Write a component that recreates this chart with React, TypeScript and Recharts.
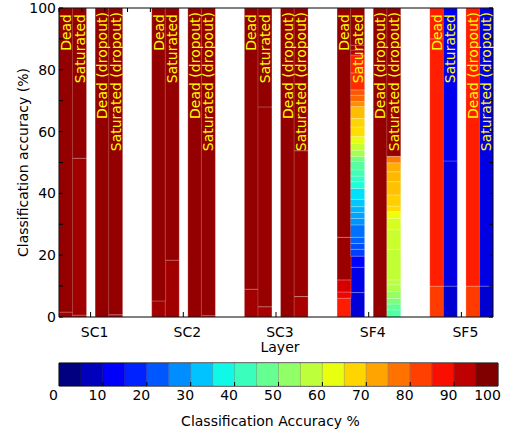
import React from "react";
import {
    ComposedChart,
    BarChart,
    Bar,
    Cell,
    XAxis,
    YAxis,
    LabelList,
    ReferenceArea,
} from "recharts";

const FONT = "'DejaVu Sans', sans-serif";

const LAYERS = ["SC1", "SC2", "SC3", "SF4", "SF5"];
const BAR_NAMES = ["Dead", "Saturated", "Dead (dropout)", "Saturated (dropout)"];
const Y_TICKS = [0, 10, 20, 30, 40, 50, 60, 70, 80, 90, 100];
const CBAR_TICKS = [0, 10, 20, 30, 40, 50, 60, 70, 80, 90, 100];
const CBAR_BINS = [0, 5, 10, 15, 20, 25, 30, 35, 40, 45, 50, 55, 60, 65, 70, 75, 80, 85, 90, 95];

// each bar, bottom up: [upper edge of the segment (%), classification accuracy (%)]
const sc1Dead = [[1.6, 96.8], [100, 98.2]];
const sc1Sat = [[0.6, 96.5], [51.4, 97.2], [100, 98.2]];
const sc1DeadDrop = [[100, 98.2]];
const sc1SatDrop = [[0.7, 97], [100, 98.2]];

const sc2Dead = [[5.2, 97], [100, 98.2]];
const sc2Sat = [[18.4, 97], [100, 98.2]];
const sc2DeadDrop = [[100, 98.2]];
const sc2SatDrop = [[0.4, 97], [100, 98.2]];

const sc3Dead = [[9, 97], [100, 98.2]];
const sc3Sat = [[3.3, 96.5], [68, 97.8], [100, 98.4]];
const sc3DeadDrop = [[100, 98.2]];
const sc3SatDrop = [[6.6, 96.4], [53.8, 97.6], [100, 98.2]];

const sf4Dead = [[6.1, 88], [8.1, 90.5], [12, 92.5], [25.8, 97.6], [100, 98.2]];
const sf4Sat = [
    [7.9, 7.7], [16.1, 9], [19.7, 12], [21.9, 18.5], [23.8, 20], [25.8, 22],
    [29.8, 23.5], [31.9, 27], [33.8, 28.5], [35.7, 30], [38.1, 32], [41.6, 34.5],
    [43.8, 39], [45.6, 41], [47.6, 43], [50.3, 45.5], [51.9, 49], [54, 55],
    [56.2, 59], [58.4, 63], [61.5, 67.5], [64.3, 68.5], [68.1, 71], [69.7, 76],
    [71.8, 80], [73.5, 82], [79, 86.5], [84.8, 87.5], [86.4, 95.5], [88, 97], [100, 98.2],
];
const sf4DeadDrop = [[100, 98.2]];
const sf4SatDrop = [
    [2.3, 45], [4.2, 47], [6, 50], [8.2, 53], [10.4, 56], [12, 57.5], [21.9, 58.5],
    [28.2, 59.5], [31.9, 61], [34.1, 64], [35.9, 68], [39.5, 69], [43.8, 70.5],
    [47, 71.5], [49.9, 72.5], [52, 78], [100, 98.2],
];

const sf5Dead = [[10, 84.8], [90, 87.8], [100, 88]];
const sf5Sat = [[10, 7], [50.5, 8.5], [100, 9.5]];
const sf5DeadDrop = [[10, 84.8], [100, 87.8]];
const sf5SatDrop = [[10, 7], [100, 8.5]];

const BARS = [
    [sc1Dead, sc1Sat, sc1DeadDrop, sc1SatDrop],
    [sc2Dead, sc2Sat, sc2DeadDrop, sc2SatDrop],
    [sc3Dead, sc3Sat, sc3DeadDrop, sc3SatDrop],
    [sf4Dead, sf4Sat, sf4DeadDrop, sf4SatDrop],
    [sf5Dead, sf5Sat, sf5DeadDrop, sf5SatDrop],
];

// layout: bar centres relative to the layer tick, x range of the axes
// (bar width = smallest spacing between centres, so neighbours touch)
const BAR_OFFSETS = [-0.268, -0.122, 0.122, 0.268];
const X_DOMAIN = [-0.341, 4.341];

// matplotlib "jet"
const JET_R = [[0, 0], [0.35, 0], [0.66, 1], [0.89, 1], [1, 0.5]];
const JET_G = [[0, 0], [0.125, 0], [0.375, 1], [0.64, 1], [0.91, 0], [1, 0]];
const JET_B = [[0, 0.5], [0.11, 1], [0.34, 1], [0.65, 0], [1, 0]];
const interp = (pts: number[][], t: number) => {
    for (let i = 1; i < pts.length; i++) {
        if (t <= pts[i][0]) {
            const [x0, y0] = pts[i - 1];
            const [x1, y1] = pts[i];
            return y0 + ((y1 - y0) * (t - x0)) / (x1 - x0);
        }
    }
    return pts[pts.length - 1][1];
};
const jet = (t: number) => {
    const c = Math.max(0, Math.min(1, t));
    const ch = (p: number[][]) => Math.round(interp(p, c) * 255);
    return `rgb(${ch(JET_R)},${ch(JET_G)},${ch(JET_B)})`;
};

const MAX_SEGS = Math.max(...BARS.flat().map((b) => b.length));
const SEG_KEYS = Array.from({ length: MAX_SEGS }, (_, k) => k);

// one row per bar; h<k> = segment height, lab<k> = name on the top segment only
const rows = BARS.flatMap((group, li) =>
    group.map((segs, ti) => {
        const row: any = {
            x: li + BAR_OFFSETS[ti],
            acc: segs.map((s) => s[1]),
        };
        let prev = 0;
        SEG_KEYS.forEach((k) => {
            if (k < segs.length) {
                row[`h${k}`] = segs[k][0] - prev;
                prev = segs[k][0];
            } else {
                row[`h${k}`] = 0;
            }
            row[`lab${k}`] = k === segs.length - 1 ? BAR_NAMES[ti] : "";
        });
        return row;
    }),
);

const cbarRow: any = { name: "cb" };
CBAR_BINS.forEach((b, i) => {
    const next = i + 1 < CBAR_BINS.length ? CBAR_BINS[i + 1] : 100;
    cbarRow[`c${i}`] = next - b;
});

const textStyle = { fontSize: 14, fontFamily: FONT, fill: "#000" };

const barLabel = (p: any) => {
    if (!p.value) return null;
    const vb = p.viewBox ?? p;
    const cx = vb.x + vb.width / 2;
    // labels without brackets sit a little lower, as in the source figure
    const drop = String(p.value).includes("(") ? 4 : 6;
    return (
        <text
            transform={`translate(${cx + 5},${vb.y + drop}) rotate(-90)`}
            textAnchor="end"
            fontSize={14}
            fontFamily={FONT}
            fill="#ffff00"
        >
            {p.value}
        </text>
    );
};

const LeftTick = (p: any) => {
    const v = p.payload.value;
    return (
        <g>
            <line x1={p.x} x2={p.x + 4} y1={p.y} y2={p.y} stroke="#000" />
            {v % 20 === 0 && (
                <text x={p.x - 3} y={p.y} dy={5} textAnchor="end" {...textStyle}>
                    {v}
                </text>
            )}
        </g>
    );
};

const RightTick = (p: any) => (
    <line x1={p.x} x2={p.x - 4} y1={p.y} y2={p.y} stroke="#000" />
);

const TopTick = (p: any) => (
    <line x1={p.x} x2={p.x} y1={p.y} y2={p.y + 4} stroke="#000" />
);

const BottomTick = (p: any) => (
    <g>
        <line x1={p.x} x2={p.x} y1={p.y} y2={p.y - 5} stroke="#000" />
        <text x={p.x + 4} y={p.y + 20} textAnchor="middle" {...textStyle}>
            {LAYERS[p.payload.value]}
        </text>
    </g>
);

const CbarTick = (p: any) => {
    const v = p.payload.value;
    return (
        <g>
            {v > 0 && v < 100 && (
                <line x1={p.x} x2={p.x} y1={p.y} y2={p.y - 4} stroke="#000" />
            )}
            <text
                x={p.x + (v === 100 ? -10.5 : -5.5)}
                y={p.y + 14}
                textAnchor="middle"
                {...textStyle}
            >
                {v}
            </text>
        </g>
    );
};

const yTitle = (p: any) => {
    const vb = p.viewBox;
    return (
        <text
            transform={`translate(${vb.x + 19},${vb.y + vb.height / 2}) rotate(-90)`}
            textAnchor="middle"
            {...textStyle}
        >
            Classification accuracy (%)
        </text>
    );
};

const xTitle = (p: any) => {
    const vb = p.viewBox;
    return (
        <text x={vb.x + vb.width / 2 + 4} y={vb.y + 35} textAnchor="middle" {...textStyle}>
            Layer
        </text>
    );
};

const cbarTitle = (p: any) => {
    const vb = p.viewBox;
    return (
        <text x={vb.x + vb.width / 2 - 8} y={vb.y + 40} textAnchor="middle" {...textStyle}>
            Classification Accuracy %
        </text>
    );
};

const App = () => {
    return (
        <div
            style={{
                position: "absolute",
                left: 0,
                top: 0,
                width: 510,
                height: 434,
                background: "#fff",
                fontFamily: FONT,
            }}
        >
            <ComposedChart
                width={510}
                height={355}
                data={rows}
                margin={{ top: 7, right: 16, bottom: 0, left: 9 }}
                barCategoryGap={0}
                barGap={0}
            >
                {SEG_KEYS.map((k) => (
                    <Bar
                        key={k}
                        dataKey={`h${k}`}
                        stackId="bar"
                        isAnimationActive={false}
                        stroke="rgba(255,255,255,0.25)"
                        strokeWidth={0.8}
                    >
                        {rows.map((r, i) => (
                            <Cell key={i} fill={jet((r.acc[k] ?? 0) / 100)} />
                        ))}
                        <LabelList dataKey={`lab${k}`} content={barLabel} />
                    </Bar>
                ))}
                <XAxis
                    dataKey="x"
                    type="number"
                    domain={X_DOMAIN}
                    allowDataOverflow
                    ticks={[0, 1, 2, 3, 4]}
                    interval={0}
                    height={38}
                    tickSize={0}
                    tickMargin={0}
                    axisLine={{ stroke: "#000" }}
                    tick={BottomTick}
                    label={{ content: xTitle }}
                />
                <XAxis
                    xAxisId="top"
                    orientation="top"
                    type="number"
                    domain={X_DOMAIN}
                    allowDataOverflow
                    ticks={[0, 1, 2, 3, 4]}
                    interval={0}
                    height={1}
                    tickSize={0}
                    tickMargin={0}
                    axisLine={{ stroke: "#000" }}
                    tick={TopTick}
                />
                <YAxis
                    type="number"
                    domain={[0, 100]}
                    allowDataOverflow
                    ticks={Y_TICKS}
                    interval={0}
                    width={50}
                    tickSize={0}
                    tickMargin={0}
                    axisLine={{ stroke: "#000" }}
                    tick={LeftTick}
                    label={{ content: yTitle }}
                />
                <YAxis
                    yAxisId="right"
                    orientation="right"
                    type="number"
                    domain={[0, 100]}
                    allowDataOverflow
                    ticks={Y_TICKS}
                    interval={0}
                    width={1}
                    tickSize={0}
                    tickMargin={0}
                    axisLine={{ stroke: "#000" }}
                    tick={RightTick}
                />
            </ComposedChart>
            <div style={{ position: "absolute", left: 0, top: 355 }}>
                <BarChart
                    width={510}
                    height={79}
                    layout="vertical"
                    data={[cbarRow]}
                    margin={{ top: 8, right: 12, bottom: 0, left: 59 }}
                    barCategoryGap={0}
                >
                    <XAxis
                        type="number"
                        domain={[0, 100]}
                        ticks={CBAR_TICKS}
                        interval={0}
                        height={48}
                        tickSize={0}
                        tickMargin={0}
                        axisLine={false}
                        tick={CbarTick}
                        label={{ content: cbarTitle }}
                    />
                    <YAxis type="category" dataKey="name" hide />
                    {CBAR_BINS.map((b, i) => (
                        <Bar
                            key={b}
                            dataKey={`c${i}`}
                            stackId="cb"
                            fill={jet(i / (CBAR_BINS.length - 1))}
                            stroke="rgba(0,0,0,0.25)"
                            strokeWidth={0.6}
                            isAnimationActive={false}
                        />
                    ))}
                    <ReferenceArea
                        x1={0}
                        x2={100}
                        fill="none"
                        stroke="#000"
                        strokeWidth={1}
                        ifOverflow="visible"
                    />
                </BarChart>
            </div>
        </div>
    );
};

export default App;
